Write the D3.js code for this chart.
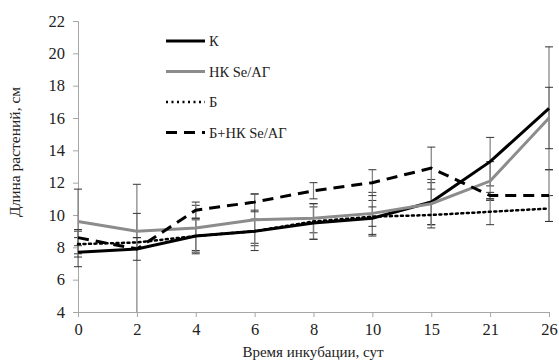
<!DOCTYPE html>
<html>
<head>
<meta charset="utf-8">
<script src="https://cdn.jsdelivr.net/npm/d3@7"></script>
<style>
  body { margin: 0; background: #fff; }
  .axis path, .axis line { stroke: #a6a6a6; }
</style>
</head>
<body>
<div id="chart"></div>
<script>
// days of incubation (category axis)
const days = ["0", "2", "4", "6", "8", "10", "15", "21", "26"];
const yTicks = [4, 6, 8, 10, 12, 14, 16, 18, 20, 22];

// plant length, cm
const kValues   = [7.7, 7.9, 8.7, 9.0, 9.5, 9.8, 10.8, 13.3, 16.6];
const kErr      = [0.9, 4.0, 1.0, 0.75, 1.0, 1.1, 1.4, 1.5, 3.8];
const nkValues  = [9.6, 9.0, 9.2, 9.7, 9.8, 10.1, 10.7, 12.1, 16.0];
const nkErr     = [2.0, 1.1, 1.4, 1.6, 0.9, 1.3, 1.3, 1.2, 1.9];
const bValues   = [8.2, 8.3, 8.7, 9.0, 9.6, 9.9, 10.0, 10.2, 10.4];
const bErr      = [0.8, 0.3, 1.1, 1.2, 1.1, 0.6, 0.8, 0.8, 0.8];
const bnkValues = [8.6, 7.9, 10.3, 10.8, 11.5, 12.0, 12.9, 11.2, 11.2];
const bnkErr    = [0.5, 0.7, 0.5, 0.5, 0.5, 0.8, 1.3, 0.2, 1.6];

const series = [
  {name: "К", values: kValues, err: kErr, color: "#000", width: 3, dash: null},
  {name: "НК Se/АГ", values: nkValues, err: nkErr, color: "#8c8c8c", width: 3, dash: null},
  {name: "Б", values: bValues, err: bErr, color: "#000", width: 2.5, dash: "2,3.5"},
  {name: "Б+НК Se/АГ", values: bnkValues, err: bnkErr, color: "#000", width: 3, dash: "11,7"}
];

const W = 559, H = 360;
const margin = {top: 21, right: 10, bottom: 48, left: 78};
const serif = "'Liberation Serif'";

const svg = d3.select("#chart").append("svg")
  .attr("width", W).attr("height", H);

const x = d3.scalePoint().domain(days).range([margin.left, 549]);
const y = d3.scaleLinear().domain([4, 22]).range([H - margin.bottom, margin.top]);

// axes
svg.append("g")
  .attr("class", "axis")
  .attr("transform", "translate(0," + y(4) + ")")
  .call(d3.axisBottom(x).tickSize(5).tickPadding(6))
  .call(g => g.selectAll("text")
    .style("font-family", serif).style("font-size", "16.5px").style("fill", "#222"));

svg.append("g")
  .attr("class", "axis")
  .attr("transform", "translate(" + margin.left + ",0)")
  .call(d3.axisLeft(y).tickValues(yTicks).tickSize(5).tickPadding(8))
  .call(g => g.selectAll("text")
    .style("font-family", serif).style("font-size", "16.5px").style("fill", "#222"));

// error bars
const clipY = v => Math.max(4, Math.min(22, v));
series.forEach(s => {
  const g = svg.append("g");
  s.values.forEach((v, i) => {
    const cx = x(days[i]);
    const lo = clipY(v - s.err[i]), hi = clipY(v + s.err[i]);
    g.append("line")
      .attr("x1", cx).attr("x2", cx)
      .attr("y1", y(lo)).attr("y2", y(hi))
      .attr("stroke", "#7f7f7f").attr("stroke-width", 1.2);
    [v - s.err[i], v + s.err[i]].forEach(e => {
      if (e < 4 || e > 22) return;
      g.append("line")
        .attr("x1", cx - 4).attr("x2", cx + 4)
        .attr("y1", y(e)).attr("y2", y(e))
        .attr("stroke", "#333").attr("stroke-width", 1);
    });
  });
});

// lines
const line = d3.line()
  .x((d, i) => x(days[i]))
  .y(d => y(d));

series.forEach(s => {
  svg.append("path")
    .datum(s.values)
    .attr("d", line)
    .attr("fill", "none")
    .attr("stroke", s.color)
    .attr("stroke-width", s.width)
    .attr("stroke-dasharray", s.dash)
    .attr("stroke-linecap", s.dash && s.dash.startsWith("2") ? "round" : "butt");
});

// legend
const legend = svg.append("g");
series.forEach((s, i) => {
  const ly = 41 + i * 30.5;
  legend.append("line")
    .attr("x1", 166).attr("x2", 205)
    .attr("y1", ly).attr("y2", ly)
    .attr("stroke", s.color)
    .attr("stroke-width", s.width)
    .attr("stroke-dasharray", s.dash);
  legend.append("text")
    .attr("x", 209).attr("y", ly + 5)
    .style("font-family", serif)
    .style("font-size", "14.5px")
    .style("fill", "#222")
    .text(s.name);
});

// axis titles
svg.append("text")
  .attr("x", 313).attr("y", 357)
  .attr("text-anchor", "middle")
  .style("font-family", serif)
  .style("font-size", "15px")
  .style("fill", "#222")
  .text("Время инкубации, сут");

svg.append("text")
  .attr("transform", "translate(20,152) rotate(-90)")
  .attr("text-anchor", "middle")
  .style("font-family", serif)
  .style("font-size", "15.5px")
  .style("fill", "#222")
  .text("Длина растений, см");
</script>
</body>
</html>
